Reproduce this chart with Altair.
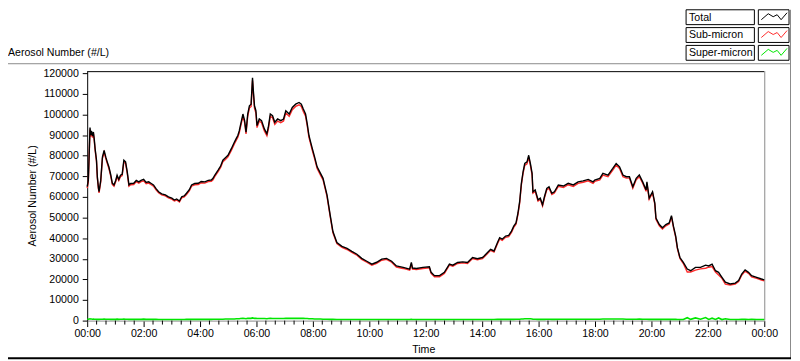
import altair as alt
import pandas as pd

# ---------------- data ----------------
times = [
    0.00, 0.04, 0.10, 0.12, 0.15, 0.19, 0.22, 0.25, 0.28, 0.33,
    0.36, 0.40, 0.42, 0.48, 0.54, 0.60, 0.66, 0.71, 0.77, 0.83,
    0.89, 0.95, 1.01, 1.06, 1.12, 1.18, 1.24, 1.30, 1.36, 1.42,
    1.48, 1.54, 1.65, 1.74, 1.83, 1.91, 2.00, 2.09, 2.18, 2.27,
    2.35, 2.44, 2.53, 2.64, 2.77, 2.88, 3.00, 3.09, 3.17, 3.27,
    3.35, 3.44, 3.52, 3.62, 3.70, 3.81, 3.94, 4.04, 4.17, 4.29,
    4.40, 4.46, 4.52, 4.64, 4.73, 4.81, 4.90, 4.99, 5.11, 5.22,
    5.29, 5.34, 5.39, 5.43, 5.52, 5.58, 5.63, 5.69, 5.75, 5.81,
    5.86, 5.89, 5.93, 5.98, 6.02, 6.10, 6.18, 6.28, 6.37, 6.42,
    6.49, 6.57, 6.65, 6.75, 6.86, 6.96, 7.04, 7.16, 7.27, 7.39,
    7.51, 7.59, 7.66, 7.74, 7.80, 7.86, 7.92, 7.98, 8.06, 8.15,
    8.27, 8.36, 8.43, 8.50, 8.61, 8.71, 8.85, 9.03, 9.21, 9.38,
    9.56, 9.73, 9.91, 10.09, 10.26, 10.44, 10.61, 10.79, 10.96, 11.20,
    11.43, 11.49, 11.53, 11.67, 11.90, 12.13, 12.19, 12.31, 12.49, 12.66,
    12.84, 12.96, 13.13, 13.31, 13.48, 13.66, 13.83, 14.01, 14.07, 14.19,
    14.30, 14.42, 14.54, 14.62, 14.71, 14.83, 14.94, 15.04, 15.12, 15.20,
    15.27, 15.33, 15.39, 15.45, 15.51, 15.59, 15.65, 15.71, 15.77, 15.80,
    15.88, 15.98, 16.06, 16.14, 16.21, 16.29, 16.37, 16.47, 16.56, 16.70,
    16.88, 17.05, 17.23, 17.40, 17.58, 17.76, 17.93, 17.99, 18.17, 18.28,
    18.46, 18.63, 18.75, 18.87, 18.99, 19.11, 19.22, 19.34, 19.46, 19.57,
    19.69, 19.81, 19.84, 19.92, 20.04, 20.12, 20.16, 20.28, 20.39, 20.51,
    20.63, 20.71, 20.78, 20.86, 20.92, 21.01, 21.13, 21.27, 21.39, 21.56,
    21.74, 21.92, 22.03, 22.15, 22.27, 22.38, 22.50, 22.62, 22.79, 22.97,
    23.09, 23.20, 23.32, 23.44, 23.55, 23.73, 23.90, 24.00,
]

total = [
    65000, 68000, 93600, 90000, 92000, 89500, 91500, 88000, 83500, 77800,
    69700, 64300, 62500, 68000, 79300, 82500, 79300, 77000, 74500, 71000,
    66700, 65800, 68000, 70500, 68500, 70500, 71000, 77800, 77000, 72100,
    65800, 66500, 66600, 68000, 67300, 68000, 68500, 67000, 67300, 66500,
    65800, 64000, 62500, 61500, 61000, 60000, 59400, 58500, 59000, 58000,
    60100, 60500, 61800, 63500, 65800, 66500, 66600, 67500, 67300, 68000,
    68200, 69000, 70500, 73000, 75000, 77800, 79000, 80200, 83400, 86600,
    88500, 89800, 92000, 94600, 100200, 97000, 91400, 100200, 104200, 105000,
    117800, 111400, 104200, 101800, 94600, 97800, 97000, 93000, 90600, 93800,
    100200, 99400, 96200, 97800, 97000, 97800, 101800, 100200, 103400, 105000,
    105800, 105000, 102600, 100200, 95400, 89800, 86600, 83400, 79400, 74600,
    71400, 69000, 65000, 61000, 51400, 43200, 37900, 36000, 35000, 33600,
    32200, 30200, 28800, 27400, 28300, 29800, 30200, 28800, 26500, 25800,
    25000, 28200, 25500, 25300, 25800, 26100, 23400, 21800, 21800, 23400,
    27400, 26900, 28200, 28500, 28200, 30600, 30000, 30600, 31300, 33000,
    34600, 33800, 37800, 40200, 39500, 41000, 41300, 43400, 45800, 47400,
    52200, 57800, 66600, 72200, 76200, 77000, 80200, 76200, 71400, 62500,
    63400, 58600, 59400, 56200, 60200, 64100, 64900, 61800, 62500, 65800,
    65300, 66600, 65800, 67300, 67800, 68500, 67300, 68200, 69000, 71400,
    70600, 73800, 76200, 74600, 70600, 69800, 69800, 64900, 69000, 70600,
    67300, 63400, 67300, 59400, 62500, 57000, 49700, 46600, 45000, 46600,
    47400, 50900, 45800, 41000, 35400, 30600, 28200, 25000, 24200, 25800,
    25800, 26900, 26500, 27400, 24200, 23400, 21000, 18600, 17800, 18200,
    19400, 22600, 24600, 23400, 21800, 21000, 20200, 19800,
]

super_micron = [
    700, 700, 900, 800, 800, 700, 800, 700, 700, 700,
    600, 600, 600, 700, 700, 800, 700, 700, 700, 600,
    600, 600, 600, 700, 600, 700, 700, 800, 700, 700,
    600, 600, 600, 600, 600, 600, 700, 600, 600, 600,
    600, 600, 500, 500, 500, 500, 500, 500, 500, 500,
    500, 500, 600, 600, 600, 600, 600, 600, 600, 600,
    600, 700, 700, 700, 700, 700, 800, 800, 800, 800,
    900, 900, 900, 1000, 1100, 1000, 900, 1100, 1100, 1100,
    1300, 1200, 1100, 1100, 1000, 1000, 1000, 1000, 900, 1000,
    1100, 1000, 1000, 1000, 1000, 1000, 1100, 1100, 1100, 1100,
    1100, 1100, 1100, 1000, 1000, 900, 900, 900, 800, 800,
    800, 700, 700, 700, 600, 600, 500, 500, 500, 500,
    500, 500, 500, 500, 500, 500, 500, 500, 500, 500,
    500, 600, 500, 500, 500, 500, 500, 500, 500, 500,
    500, 500, 500, 500, 500, 500, 500, 500, 500, 500,
    500, 500, 600, 600, 600, 600, 600, 600, 600, 700,
    700, 700, 800, 800, 900, 900, 900, 900, 800, 700,
    700, 600, 600, 600, 600, 700, 700, 600, 600, 700,
    700, 700, 700, 700, 700, 700, 700, 700, 700, 800,
    800, 800, 800, 800, 800, 700, 700, 700, 700, 800,
    700, 700, 700, 600, 600, 600, 600, 600, 600, 600,
    600, 600, 600, 600, 500, 500, 500, 1400, 600, 1300,
    700, 1500, 600, 1200, 600, 1300, 500, 900, 500, 500,
    500, 600, 600, 500, 600, 500, 500, 500,
]

# Total = Sub-micron + Super-micron
sub_micron = [t - s for t, s in zip(total, super_micron)]

series_names = ["Total", "Sub-micron", "Super-micron"]
series_colors = ["#000000", "#ff2a2a", "#00e600"]

x_tick_values = list(range(0, 25, 2))
y_tick_values = list(range(0, 120001, 10000))
minor_ticks = [i / 3 for i in range(73) if i % 6 != 0]

# ---------------- layout ----------------
FONT = "Liberation Sans"
FS = 10.7
W, H = 684, 252
GRAY = "#8a8a8a"

df = pd.DataFrame({"hour": times, "total": total, "sub": sub_micron, "sup": super_micron})
one = pd.DataFrame({"a": [0]})

xs = alt.Scale(domain=[0, 24], nice=False, zero=False)
ys = alt.Scale(domain=[0, 121000], nice=False)

x_axis = alt.Axis(
    values=x_tick_values,
    labelExpr="(datum.value % 24 < 10 ? '0' : '') + (datum.value % 24) + ':00'",
    title=None, grid=False, tickSize=6, tickColor="black", domainColor=GRAY,
    labelFont=FONT, labelFontSize=FS, labelColor="black", labelPadding=2,
    labelFlush=False, labelOverlap=False,
)
y_axis = alt.Axis(
    values=y_tick_values, format="d", title=None, grid=False, tickSize=5,
    tickColor="black", domainColor="black", labelFont=FONT, labelFontSize=FS,
    labelColor="black", labelPadding=4, labelOverlap=False,
)


def series(col, color, width):
    return alt.Chart(df).mark_line(color=color, strokeWidth=width).encode(
        x=alt.X("hour:Q", scale=xs, axis=x_axis),
        y=alt.Y(f"{col}:Q", scale=ys, axis=y_axis),
    )


minor = alt.Chart(pd.DataFrame({"hour": minor_ticks})).mark_rule(color="black").encode(
    x=alt.X("hour:Q", scale=xs, axis=x_axis),
    y=alt.value(H), y2=alt.value(H + 4),
)


def rule(x, x2, y, y2, color, width=1):
    return alt.Chart(one).mark_rule(color=color, strokeWidth=width).encode(
        x=alt.value(x), x2=alt.value(x2), y=alt.value(y), y2=alt.value(y2)
    )


def text(s, x, y, align="left", angle=0):
    return alt.Chart(one).mark_text(
        text=s, font=FONT, fontSize=FS, color="black", align=align,
        baseline="middle", angle=angle,
    ).encode(x=alt.value(x), y=alt.value(y))


def box(x, x2, y, y2):
    return alt.Chart(one).mark_rect(fill="white", stroke="black", strokeWidth=1).encode(
        x=alt.value(x), x2=alt.value(x2), y=alt.value(y), y2=alt.value(y2)
    )


layers = [
    # frame pieces
    rule(0, W, 0.5, 0.5, "black"),
    rule(W + 0.5, W + 0.5, 0, H, GRAY),
    rule(-80, 711, -7.5, -7.5, GRAY),
    rule(710.5, 710.5, -62, 290, GRAY),
    rule(-80, 711, 290, 290, "black", 2),
    # data
    series("sup", series_colors[2], 1.6),
    series("sub", series_colors[1], 1.4),
    series("total", series_colors[0], 1.4),
    minor,
    # titles
    text("Aerosol Number (#/L)", -80, -18),
    text("Aerosol Number (#/L)", -55, H / 2, align="center", angle=270),
    text("Time", W / 2 - 2, 282, align="center"),
]

# legend (drawn as boxes)
row_tops = [-62, -44, -26]
zig_x = [681, 688, 693, 697, 701, 707]
zig_dy = [11, 5, 8, 6, 11, 4]
for name, color, top in zip(series_names, series_colors, row_tops):
    layers.append(box(605, 674, top, top + 15))
    layers.append(box(678, 709, top, top + 15))
    layers.append(text(name, 608, top + 8))
    for i in range(len(zig_x) - 1):
        layers.append(rule(zig_x[i], zig_x[i + 1], top + zig_dy[i] - 1,
                           top + zig_dy[i + 1] - 1, color))

chart = alt.layer(*layers).properties(
    width=W, height=H, autosize="none",
    padding={"left": 80, "top": 62, "right": 28, "bottom": 39},
    background="white",
).configure_view(stroke=None)

chart.save("out.html", embed_options={"renderer": "svg", "actions": False})
